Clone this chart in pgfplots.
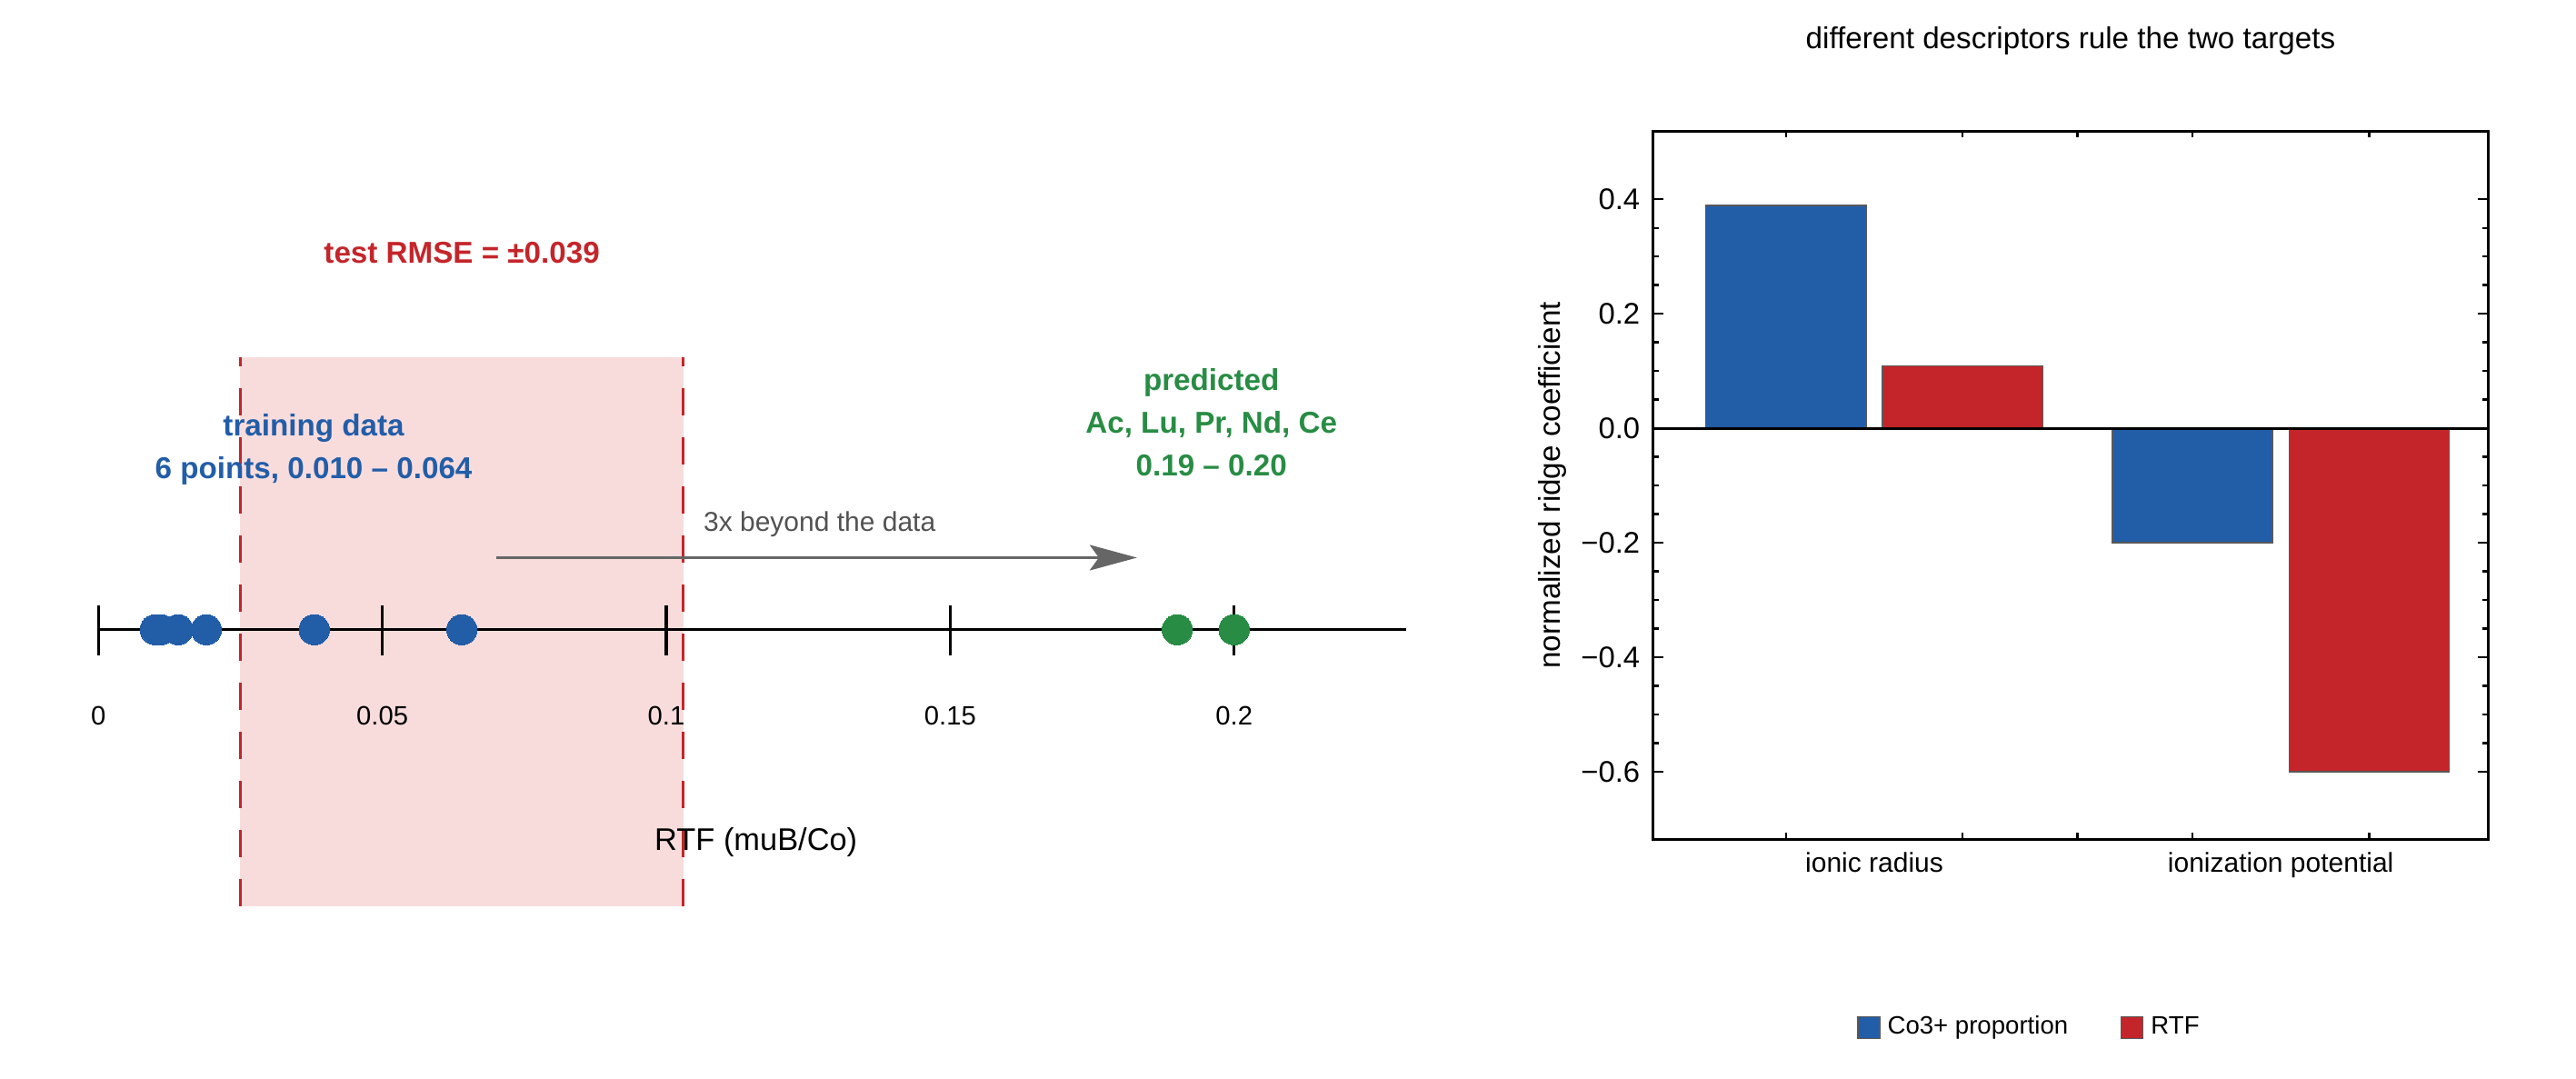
\documentclass[border=0pt]{standalone}
\usepackage{fontspec}
\setmainfont{Liberation Sans}
\usepackage{pgfplots}
\pgfplotsset{compat=1.18}
\usetikzlibrary{arrows.meta}
\definecolor{cblue}{HTML}{225DA8}
\definecolor{cred}{HTML}{C4252A}
\definecolor{cgreen}{HTML}{288C44}
\definecolor{cpink}{HTML}{F8DCDC}
\definecolor{cgray}{HTML}{666666}
\newcommand{\fs}[1]{\fontsize{#1}{#1}\selectfont}
\begin{document}
\begin{tikzpicture}
\path[use as bounding box] (0,0) rectangle (708.5pt,296.75pt);
% ---------------- left panel: number line ----------------
\begin{axis}[at={(0pt,0pt)}, anchor=south west, scale only axis,
  width=412.5pt, height=296.75pt,
  xmin=-0.017336, xmax=0.24679, ymin=0, ymax=1187,
  hide axis, clip=false]
% training range +- RMSE band
\addplot[fill=cpink, draw=none] coordinates {(0.025,190) (0.103,190) (0.103,794) (0.025,794)};
\addplot[cred, line width=0.75pt, dash pattern=on 7.5pt off 6pt] coordinates {(0.025,190) (0.025,794)};
\addplot[cred, line width=0.75pt, dash pattern=on 7.5pt off 6pt] coordinates {(0.103,190) (0.103,794)};
% number line and ticks
\addplot[black, line width=0.85pt] coordinates {(0,494.3) (0.2303,494.3)};
\addplot[black, line width=0.8pt] coordinates {(0,466) (0,521.3)};
\addplot[black, line width=0.8pt] coordinates {(0.05,466) (0.05,521.3)};
\addplot[black, line width=0.8pt] coordinates {(0.1,466) (0.1,521.3)};
\addplot[black, line width=0.8pt] coordinates {(0.15,466) (0.15,521.3)};
\addplot[black, line width=0.8pt] coordinates {(0.2,466) (0.2,521.3)};
\node[anchor=base, font=\fs{7.3}] at (axis cs:0,389.7) {0};
\node[anchor=base, font=\fs{7.3}] at (axis cs:0.05,389.7) {0.05};
\node[anchor=base, font=\fs{7.3}] at (axis cs:0.1,389.7) {0.1};
\node[anchor=base, font=\fs{7.3}] at (axis cs:0.15,389.7) {0.15};
\node[anchor=base, font=\fs{7.3}] at (axis cs:0.2,389.7) {0.2};
% arrow
\addplot[cgray, line width=0.75pt, -{Stealth[length=13pt, width=7pt, inset=2.5pt]}] coordinates {(0.07,573.5) (0.1829,573.5)};
% training points
\addplot[cblue, only marks, mark=*, mark size=4.17pt, mark options={draw=cblue, fill=cblue, line width=0pt}] coordinates {
(0.010,494.3) (0.011,494.3) (0.014,494.3) (0.019,494.3) (0.038,494.3) (0.064,494.3)};
% predicted points
\addplot[cgreen, only marks, mark=*, mark size=4.17pt, mark options={draw=cgreen, fill=cgreen, line width=0pt}] coordinates {
(0.190,494.3) (0.200,494.3) (0.200,494.3) (0.200,494.3) (0.200,494.3)};
% annotations
\node[anchor=base, text=cred, font=\bfseries\fs{8.3}] at (axis cs:0.064,897) {test RMSE = ±0.039};
\node[anchor=base, text=cblue, font=\bfseries\fs{8.3}] at (axis cs:0.0379,707) {training data};
\node[anchor=base, text=cblue, font=\bfseries\fs{8.3}] at (axis cs:0.0379,660) {6 points, 0.010 – 0.064};
\node[anchor=base, text=cgreen, font=\bfseries\fs{8.3}] at (axis cs:0.196,757) {predicted};
\node[anchor=base, text=cgreen, font=\bfseries\fs{8.3}] at (axis cs:0.196,710) {Ac, Lu, Pr, Nd, Ce};
\node[anchor=base, text=cgreen, font=\bfseries\fs{8.3}] at (axis cs:0.196,663.7) {0.19 – 0.20};
\node[anchor=base, text=cgray!80!black, font=\fs{7.5}] at (axis cs:0.1270,602.5) {3x beyond the data};
\node[anchor=base, font=\fs{8.6}] at (axis cs:0.1158,251.6) {RTF (muB/Co)};
\end{axis}
% ---------------- right panel: bar chart ----------------
\begin{axis}[at={(454.575pt,65.925pt)}, anchor=south west, scale only axis,
  width=229.825pt, height=194.75pt,
  xmin=0.2465, xmax=4.975, ymin=-0.718, ymax=0.519,
  axis line style={line width=0.8pt},
  tick align=inside,
  ytick={-0.6,-0.4,-0.2,0,0.2,0.4},
  yticklabels={−0.6,−0.4,−0.2,0.0,0.2,0.4},
  minor y tick num=3,
  xtick={1.5,3.8}, xticklabels={ionic radius, ionization potential},
  minor xtick={1,2,2.65,3.3,4.3},
  major tick length=2.9pt, minor tick length=1.7pt,
  tick style={black, line width=0.6pt},
  major x tick style={draw=none},
  yticklabel style={font=\fs{8.2}},
  xticklabel style={font=\fs{7.5}},
  ylabel={normalized ridge coefficient},
  ylabel style={at={(axis description cs:-0.1202,0.5)}, anchor=center, font=\fs{8.3}},
  legend columns=2,
  legend style={at={(axis description cs:0.4538,-0.266)}, anchor=center, draw=none, fill=none,
    font=\fs{6.9}, /tikz/every even column/.append style={column sep=12.5pt}},
  legend image code/.code={\draw[#1, line width=0.3pt] (0pt,-3pt) rectangle (6pt,3pt);},
  clip=false]
\addplot[ybar, bar shift=0pt, bar width=0.906, fill=cblue, draw=black!65, line width=0.35pt]
  coordinates {(1,0.389) (3.3,-0.200)};
\addlegendentry{Co3+ proportion}
\addplot[ybar, bar shift=0pt, bar width=0.906, fill=cred, draw=black!65, line width=0.35pt]
  coordinates {(2,0.109) (4.3,-0.600)};
\addlegendentry{RTF}
\addplot[black, line width=0.7pt, forget plot] coordinates {(0.2465,0) (4.975,0)};
\node[anchor=base, font=\fs{8.3}] at (axis description cs:0.5,1.1168) {different descriptors rule the two targets};
\end{axis}
\end{tikzpicture}
\end{document}
